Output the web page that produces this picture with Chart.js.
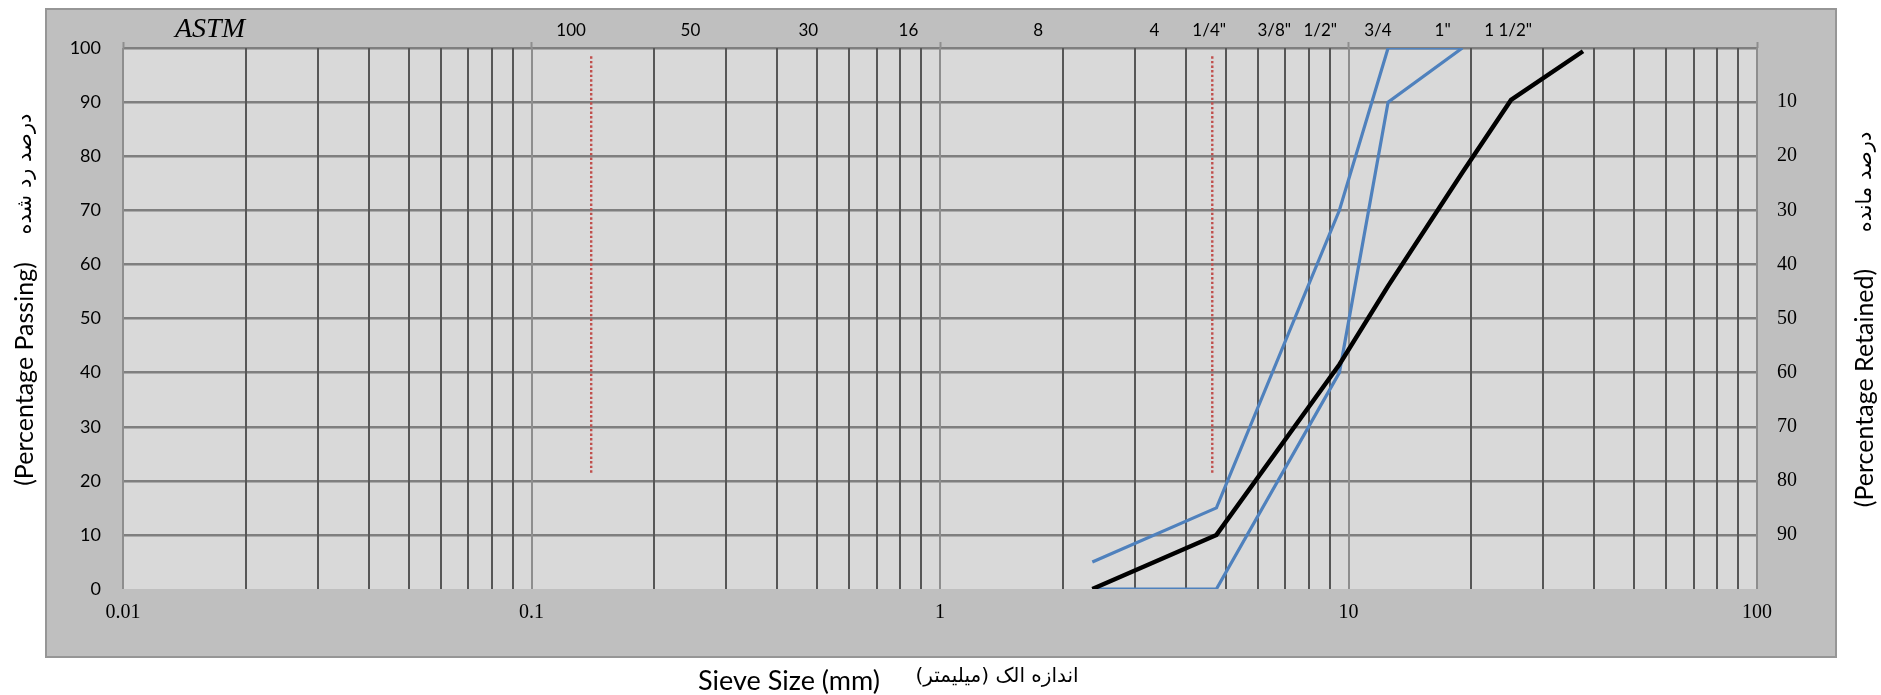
<!DOCTYPE html>
<html>
<head>
<meta charset="utf-8">
<script src="https://cdn.jsdelivr.net/npm/chart.js@4.4.1/dist/chart.umd.min.js"></script>
<style>
  html, body { margin: 0; padding: 0; background: #fff; }
  #wrap { width: 1881px; height: 695px; }
</style>
</head>
<body>
<div id="wrap"><canvas id="grading" width="1881" height="695"></canvas></div>
<script>
// Sample gradation: sieve opening (mm) and percent passing
const sieveSizes = [2.36, 4.75, 9.5, 12.5, 19, 25, 37.5];
const samplePassing = [0, 10, 41.5, 56, 77, 90.4, 99.4];

// Specification band (upper and lower limits)
const upperLimitSizes = [2.36, 4.75, 9.5, 12.5, 19];
const upperLimitPassing = [5, 15, 70, 100, 100];
const lowerLimitSizes = [2.36, 4.75, 9.5, 12.5, 19];
const lowerLimitPassing = [0, 0, 40, 90, 100];

// Dotted reference markers
const markerASizes = [0.14, 0.14];
const markerBSizes = [4.64, 4.64];
const markerPassing = [21.5, 98.5];

// Axis ticks
const decadeTicks = [0.01, 0.1, 1, 10, 100];
const minorMultipliers = [2, 3, 4, 5, 6, 7, 8, 9];
const passingTicks = [0, 10, 20, 30, 40, 50, 60, 70, 80, 90, 100];

// ASTM sieve designations along the top edge, and where they sit (mm)
const astmLabels = ['100', '50', '30', '16', '8', '4', '1/4"', '3/8"', '1/2"', '3/4', '1"', '1 1/2"'];
const astmLabelPos = [0.125, 0.245, 0.476, 0.837, 1.74, 3.35, 4.56, 6.58, 8.53, 11.8, 17.0, 24.6];

const toPoints = (xs, ys) => xs.map((x, i) => ({ x: x, y: ys[i] }));

// every 1..9 line of each decade for the log grid
const xGridValues = [];
decadeTicks.slice(0, -1).forEach(d => {
  xGridValues.push(d);
  minorMultipliers.forEach(m => xGridValues.push(+(m * d).toPrecision(6)));
});
xGridValues.push(decadeTicks[decadeTicks.length - 1]);

const topTickValues = decadeTicks.concat(astmLabelPos).sort((a, b) => a - b);
const isDecade = v => decadeTicks.indexOf(v) >= 0;

const SANS = 'Lato, "Open Sans", sans-serif';
const SERIF = '"Liberation Serif", "DejaVu Serif", serif';
const FA = '"DejaVu Sans", "Liberation Serif", serif';

const frameAndTitles = {
  id: 'frameAndTitles',
  beforeDraw(chart) {
    const { ctx, chartArea: a } = chart;
    ctx.save();
    ctx.fillStyle = '#ffffff';
    ctx.fillRect(0, 0, chart.width, chart.height);
    ctx.fillStyle = '#bfbfbf';
    ctx.fillRect(46, 9, 1790, 648);
    ctx.strokeStyle = '#969696';
    ctx.lineWidth = 2;
    ctx.strokeRect(46, 9, 1790, 648);
    ctx.fillStyle = '#d9d9d9';
    ctx.fillRect(a.left, a.top, a.right - a.left, a.bottom - a.top);
    ctx.restore();
  },
  afterDraw(chart) {
    const ctx = chart.ctx;
    ctx.save();
    ctx.fillStyle = '#000';

    // ASTM heading
    ctx.font = 'italic 28px ' + SERIF;
    ctx.textAlign = 'center';
    ctx.textBaseline = 'alphabetic';
    ctx.fillText('ASTM', 210, 36.5);

    const vertical = (text, x, y, font, rtl) => {
      ctx.save();
      ctx.translate(x, y);
      ctx.rotate(-Math.PI / 2);
      ctx.font = font;
      ctx.direction = rtl ? 'rtl' : 'ltr';
      ctx.textAlign = 'center';
      ctx.textBaseline = 'middle';
      ctx.fillText(text, 0, 0);
      ctx.restore();
    };
    vertical('(Percentage Passing)', 25, 374, '25px ' + SANS, false);
    vertical('درصد رد شده', 26, 174, '21px ' + FA, true);
    vertical('(Percentage Retained)', 1865, 388, '25px ' + SANS, false);
    vertical('درصد مانده', 1866, 182, '21px ' + FA, true);

    ctx.textAlign = 'center';
    ctx.textBaseline = 'middle';
    ctx.direction = 'ltr';
    ctx.font = '27px ' + SANS;
    ctx.fillText('Sieve Size (mm)', 789, 681);
    ctx.direction = 'rtl';
    ctx.font = '20px ' + FA;
    ctx.fillText('اندازه الک (میلیمتر)', 997, 677);
    ctx.restore();
  }
};

const lineStyle = (color, width) => ({
  borderColor: color,
  backgroundColor: color,
  borderWidth: width,
  showLine: true,
  pointRadius: 0,
  tension: 0,
  fill: false
});

new Chart(document.getElementById('grading'), {
  type: 'scatter',
  data: {
    datasets: [
      Object.assign({ label: 'Sample', data: toPoints(sieveSizes, samplePassing), order: 0 }, lineStyle('#000000', 4.4)),
      Object.assign({ label: 'Upper limit', data: toPoints(upperLimitSizes, upperLimitPassing), order: 1 }, lineStyle('#4f81bd', 3.2)),
      Object.assign({ label: 'Lower limit', data: toPoints(lowerLimitSizes, lowerLimitPassing), order: 2 }, lineStyle('#4f81bd', 3.2)),
      Object.assign({ label: 'No. 100', data: toPoints(markerASizes, markerPassing), order: 3, borderDash: [2.4, 2.2] }, lineStyle('#c0504d', 2.4)),
      Object.assign({ label: '1/4 in', data: toPoints(markerBSizes, markerPassing), order: 4, borderDash: [2.4, 2.2] }, lineStyle('#c0504d', 2.4))
    ]
  },
  options: {
    responsive: false,
    animation: false,
    devicePixelRatio: 1,
    layout: { padding: 0 },
    plugins: { legend: { display: false }, tooltip: { enabled: false } },
    scales: {
      x: {
        type: 'logarithmic',
        position: 'bottom',
        min: 0.01,
        max: 100,
        afterBuildTicks: s => { s.ticks = xGridValues.map(v => ({ value: v })); },
        afterFit: s => { s.height = 106; },
        ticks: {
          autoSkip: false, maxRotation: 0, minRotation: 0, padding: 12,
          color: '#000', font: { family: SERIF, size: 20 },
          callback: v => (isDecade(v) ? String(v) : '')
        },
        grid: {
          z: -1,
          drawTicks: false,
          lineWidth: 2,
          color: c => (c.tick && isDecade(c.tick.value) ? '#8e8e8e' : '#575757')
        },
        border: { display: false }
      },
      xTop: {
        type: 'logarithmic',
        position: 'top',
        min: 0.01,
        max: 100,
        afterBuildTicks: s => { s.ticks = topTickValues.map(v => ({ value: v })); },
        afterFit: s => { s.height = 48; },
        ticks: {
          autoSkip: false, maxRotation: 0, minRotation: 0, padding: 1,
          color: '#000', font: { family: '"Liberation Sans Narrow", ' + SANS, size: 17 },
          callback: v => { const i = astmLabelPos.indexOf(v); return i >= 0 ? astmLabels[i] : ''; }
        },
        grid: {
          drawOnChartArea: false,
          drawTicks: true,
          tickLength: 6,
          tickWidth: 2,
          tickColor: c => (c.tick && isDecade(c.tick.value) ? '#8e8e8e' : 'rgba(0,0,0,0)')
        },
        border: { display: false }
      },
      y: {
        type: 'linear',
        position: 'left',
        min: 0,
        max: 100,
        afterBuildTicks: s => { s.ticks = passingTicks.map(v => ({ value: v })); },
        afterFit: s => { s.width = 123; },
        ticks: { padding: 22, color: '#000', font: { family: SANS, size: 18 } },
        grid: {
          z: -2,
          drawTicks: false,
          lineWidth: 2.4,
          color: c => (c.tick && c.tick.value === 0 ? 'rgba(0,0,0,0)' : '#7f7f7f')
        },
        border: { display: false }
      },
      yRetained: {
        type: 'linear',
        position: 'right',
        min: 0,
        max: 100,
        afterBuildTicks: s => { s.ticks = passingTicks.map(v => ({ value: v })); },
        afterFit: s => { s.width = 124; },
        ticks: {
          padding: 20, color: '#000', font: { family: SERIF, size: 20 },
          callback: v => (v === 0 || v === 100 ? '' : String(100 - v))
        },
        grid: { drawOnChartArea: false, drawTicks: false },
        border: { display: false }
      }
    }
  },
  plugins: [frameAndTitles]
});
</script>
</body>
</html>
